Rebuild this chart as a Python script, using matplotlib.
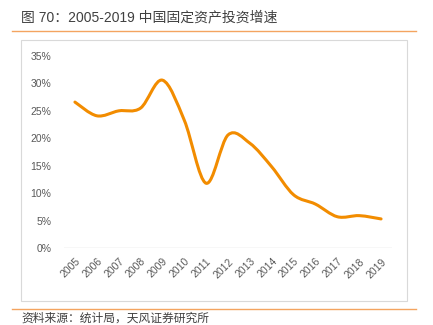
import numpy as np
import matplotlib.pyplot as plt
from matplotlib.path import Path
from matplotlib.patches import PathPatch, Rectangle
from matplotlib.lines import Line2D

plt.rcParams['font.family'] = ['Liberation Sans', 'Noto Sans CJK SC', 'DejaVu Sans']

# data (%)
years = ['2005', '2006', '2007', '2008', '2009', '2010', '2011', '2012',
         '2013', '2014', '2015', '2016', '2017', '2018', '2019']
growth = [26.6, 24.1, 25.0, 25.5, 30.6, 23.3, 11.8, 20.6,
          19.1, 14.8, 9.7, 8.0, 5.7, 5.9, 5.3]
yticks = [0, 5, 10, 15, 20, 25, 30, 35]

W, H = 433, 325
fig = plt.figure(figsize=(W / 100, H / 100), dpi=100)

# title and header rule
fig.text(21 / W, 1 - 17 / H, '图 70：2005-2019 中国固定资产投资增速',
         family=['Liberation Sans', 'Noto Sans CJK SC'], fontsize=10,
         color='#404040', va='center', ha='left')
fig.add_artist(Line2D([12 / W, 416 / W], [1 - 31 / H, 1 - 31 / H],
                      color='#F4A460', lw=1.0))
fig.add_artist(Line2D([12 / W, 416 / W], [1 - 309 / H, 1 - 309 / H],
                      color='#F4A460', lw=1.0))
fig.add_artist(Rectangle((21 / W, 1 - 301 / H), (407 - 21) / W, (301 - 40) / H,
                         transform=fig.transFigure, fill=False,
                         edgecolor='#D9D9D9', lw=0.8))
fig.text(21 / W, 1 - 318 / H, '资料来源：统计局，天风证券研究所',
         family=['Noto Sans CJK SC', 'DejaVu Sans'], fontsize=8.5,
         color='#404040', va='center', ha='left')

ax = fig.add_axes([64 / W, 1 - 248 / H, (392 - 64) / W, (248 - 56) / H])
ax.set_xlim(-0.5, len(years) - 0.5)
ax.set_ylim(0, 35)

# smoothed line (Excel style bezier through the points)
x = np.arange(len(years), dtype=float)
y = np.array(growth)
verts = [(x[0], y[0])]
codes = [Path.MOVETO]
n = len(x)
for i in range(n - 1):
    p0 = (x[i - 1], y[i - 1]) if i > 0 else (x[i], y[i])
    p1 = (x[i], y[i])
    p2 = (x[i + 1], y[i + 1])
    p3 = (x[i + 2], y[i + 2]) if i + 2 < n else (x[i + 1], y[i + 1])
    c1 = (p1[0] + (p2[0] - p0[0]) / 6, p1[1] + (p2[1] - p0[1]) / 6)
    c2 = (p2[0] - (p3[0] - p1[0]) / 6, p2[1] - (p3[1] - p1[1]) / 6)
    verts += [c1, c2, p2]
    codes += [Path.CURVE4] * 3
ax.add_patch(PathPatch(Path(verts, codes), fill=False, edgecolor='#F28C00',
                       lw=2.2, capstyle='round', joinstyle='round'))

ax.axhline(0, color='#D9D9D9', lw=1.0, zorder=0.5)

for s in ax.spines.values():
    s.set_visible(False)
ax.set_yticks(yticks)
ax.set_yticklabels([f'{v}%' for v in yticks])
ax.set_xticks(x)
ax.set_xticklabels(years, rotation=45, ha='right', va='top', rotation_mode='anchor')
ax.tick_params(axis='both', length=0, labelsize=7.5, colors='#595959')
ax.tick_params(axis='y', pad=9)
ax.tick_params(axis='x', pad=6)
ax.patch.set_alpha(0)

fig.savefig('out.png', dpi=100)
